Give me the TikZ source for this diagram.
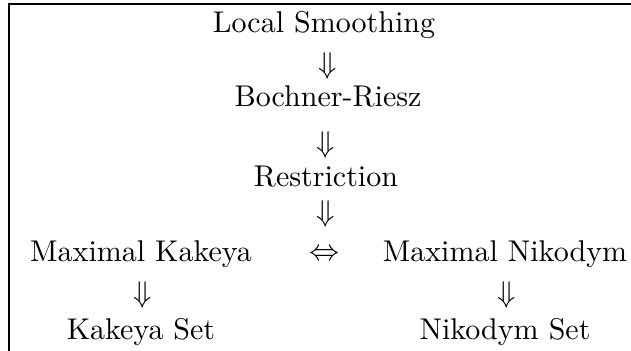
\documentclass[tikz,border=0pt]{standalone}
\begin{document}
\begin{tikzpicture}[x=0.3333pt,y=-0.3333pt,
  lbl/.style={anchor=base,inner sep=0pt,font=\fontsize{10}{12}\selectfont},
  arr/.style={anchor=center,inner sep=0pt,font=\fontsize{10}{12}\selectfont}]
\useasboundingbox (0,0) rectangle (631,351);
\draw[line width=0.45pt] (9,351) -- (9,4) -- (631,4);
\node[lbl] (ls) at (324,32) {Local Smoothing};
\node[arr] (a1) at (328,66) {$\Downarrow$};
\node[lbl] (br) at (328,107) {Bochner-Riesz};
\node[arr] (a2) at (326,145) {$\Downarrow$};
\node[lbl] (re) at (326,187) {Restriction};
\node[arr] (a3) at (326,214) {$\Downarrow$};
\node[lbl] (mk) at (141,262) {Maximal Kakeya};
\node[arr] (eq) at (325,255) {$\Leftrightarrow$};
\node[lbl] (mn) at (505,262) {Maximal Nikodym};
\node[arr] (a4) at (143,295) {$\Downarrow$};
\node[arr] (a5) at (507,295) {$\Downarrow$};
\node[lbl] (ks) at (141,340) {Kakeya Set};
\node[lbl] (ns) at (505,340) {Nikodym Set};
\end{tikzpicture}
\end{document}
